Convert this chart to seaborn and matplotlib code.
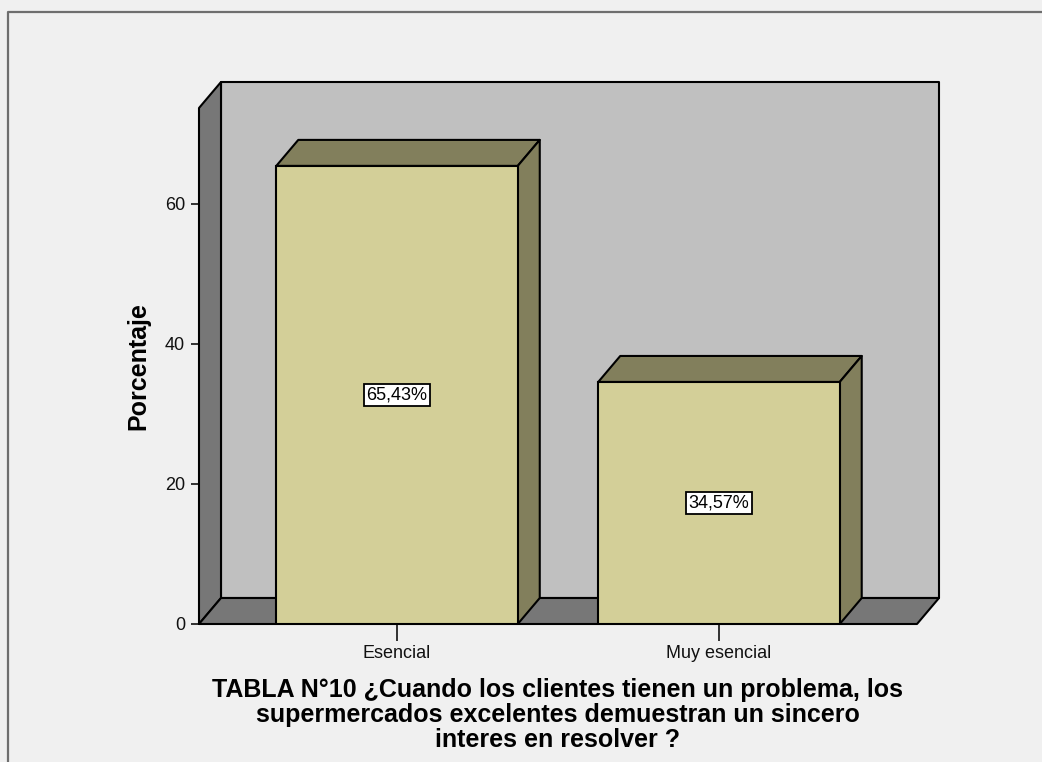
import numpy as np
import pandas as pd
import matplotlib
matplotlib.use("Agg")
import matplotlib.pyplot as plt
from matplotlib.patches import Polygon, Rectangle
from matplotlib.lines import Line2D
import seaborn as sns

# ---- data ----
categories = ["Esencial", "Muy esencial"]
percentages = [65.43, 34.57]
value_labels = ["65,43%", "34,57%"]
y_ticks = [0, 20, 40, 60]
y_label = "Porcentaje"
title_lines = [
    "TABLA N°10 ¿Cuando los clientes tienen un problema, los",
    "supermercados excelentes demuestran un sincero",
    "interes en resolver ?",
]

# ---- style ----
FIG_BG = "#F0F0F0"
BACK_WALL = "#C0C0C0"
DARK_WALL = "#777777"
BAR_FRONT = "#D3CF98"
BAR_SIDE = "#827F5C"

sns.set_theme(style="white")
plt.rcParams["font.family"] = ["Liberation Sans", "DejaVu Sans"]

W, H, DPI = 1042, 762, 100
fig = plt.figure(figsize=(W / DPI, H / DPI), dpi=DPI, facecolor=FIG_BG)
ax_l, ax_r, ax_t, ax_b = 199, 917, 108, 624
ax = fig.add_axes([ax_l / W, 1 - ax_b / H, (ax_r - ax_l) / W, (ax_b - ax_t) / H])
ax.set_facecolor("none")
for s in ax.spines.values():
    s.set_visible(False)

df = pd.DataFrame({"cat": categories, "pct": percentages})
sns.barplot(data=df, x="cat", y="pct", order=categories, color=BAR_FRONT,
            saturation=1, width=0.75, edgecolor="black", linewidth=1.5,
            ax=ax, zorder=4)
bars = list(ax.patches)

XLIM = (-0.615, 1.615)
YLIM = (0, 73.7)
ax.set_xlim(XLIM)
ax.set_ylim(YLIM)
# depth offset (pixels -> data units)
dx = 22 * (XLIM[1] - XLIM[0]) / (ax_r - ax_l)
dy = 26 * (YLIM[1] - YLIM[0]) / (ax_b - ax_t)

x0, x1 = XLIM
y0, y1 = YLIM
edge = dict(edgecolor="black", linewidth=1.5, clip_on=False, joinstyle="round")
ax.add_patch(Rectangle((x0 + dx, y0 + dy), x1 - x0, y1 - y0,
                       facecolor=BACK_WALL, zorder=1, **edge))
ax.add_patch(Polygon([(x0, y0), (x0, y1), (x0 + dx, y1 + dy), (x0 + dx, y0 + dy)],
                     closed=True, facecolor=DARK_WALL, zorder=1.5, **edge))
ax.add_patch(Polygon([(x0, y0), (x1, y0), (x1 + dx, y0 + dy), (x0 + dx, y0 + dy)],
                     closed=True, facecolor=DARK_WALL, zorder=1.5, **edge))

for p, lab in zip(bars, value_labels):
    bx = p.get_x()
    bw = p.get_width()
    h = p.get_height()
    ax.add_patch(Polygon([(bx, h), (bx + bw, h), (bx + bw + dx, h + dy), (bx + dx, h + dy)],
                         closed=True, facecolor=BAR_SIDE, zorder=3, **edge))
    ax.add_patch(Polygon([(bx + bw, 0), (bx + bw, h), (bx + bw + dx, h + dy), (bx + bw + dx, dy)],
                         closed=True, facecolor=BAR_SIDE, zorder=3, **edge))
    ax.text(bx + bw / 2, h / 2, lab, ha="center", va="center", fontsize=13,
            color="black", zorder=6,
            bbox=dict(boxstyle="square,pad=0.15", facecolor="white",
                      edgecolor="black", linewidth=1.3))

ax.set_yticks(y_ticks)
ax.set_xlabel("")
ax.set_ylabel(y_label, fontsize=18, fontweight="bold", va="center", color="black")
ax.yaxis.set_label_coords((138 - ax_l) / (ax_r - ax_l), 0.5)
ax.tick_params(axis="y", left=True, length=6, width=1.3, color="#222222",
               labelsize=13, pad=4, labelcolor="#111111")
ax.tick_params(axis="x", bottom=True, length=12, width=1.3, color="#222222",
               labelsize=13, pad=3, labelcolor="#111111")

fig.text(558 / W, 1 - 715 / H, "\n".join(title_lines), ha="center", va="center",
         fontsize=18, fontweight="bold", linespacing=1.04, color="black")

# outer frame (left and top edges)
fig.add_artist(Line2D([8 / W, 8 / W, 1.0], [0, 1 - 12 / H, 1 - 12 / H],
                      color="#6E6E6E", linewidth=1.6, transform=fig.transFigure))

fig.savefig("out.png", dpi=DPI, facecolor=FIG_BG)
